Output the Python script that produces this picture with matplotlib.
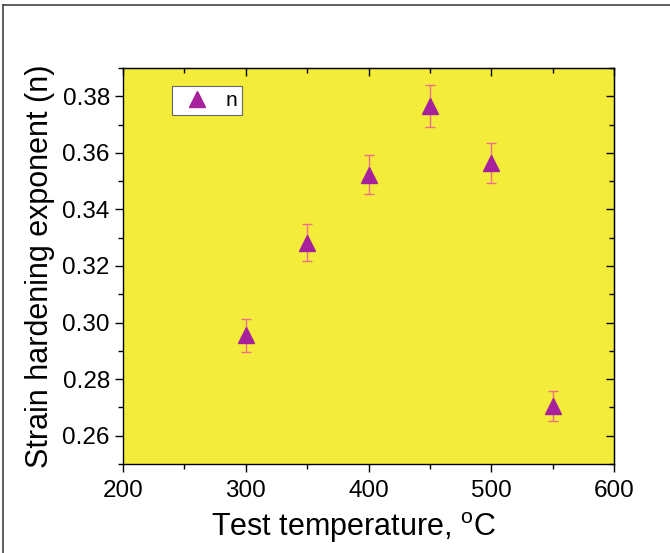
import matplotlib
matplotlib.use("Agg")
import matplotlib.pyplot as plt
from matplotlib.ticker import MultipleLocator
from matplotlib.lines import Line2D

plt.rcParams['font.family'] = ['Liberation Sans', 'DejaVu Sans']
plt.rcParams['mathtext.fontset'] = 'custom'
plt.rcParams['mathtext.rm'] = 'Liberation Sans'

temperature = [300, 350, 400, 450, 500, 550]
n_values = [0.2955, 0.3283, 0.3523, 0.3765, 0.3563, 0.2705]
n_errors = [0.0058, 0.0065, 0.0070, 0.0075, 0.0071, 0.0052]
y_ticks = [0.26, 0.28, 0.30, 0.32, 0.34, 0.36, 0.38]
y_ticklabels = ['0.26', '0.28', '0.30', '0.32', '0.34', '0.36', '0.38']

yellow = '#F3EC3B'
purple = '#A6219B'
errc = '#EE6E8C'

fig = plt.figure(figsize=(6.70, 5.53), dpi=100)
ax = fig.add_axes([123/670, 1 - 464/553, (614-123)/670, (464-68)/553])
ax.set_facecolor(yellow)

ax.errorbar(temperature, n_values, yerr=n_errors, fmt='none', ecolor=errc,
            elinewidth=1.0, capsize=3.5, capthick=1.0, zorder=2)
ax.plot(temperature, n_values, linestyle='none', marker='^', markersize=11,
        color=purple, markeredgecolor=purple, zorder=3)

ax.set_xlim(200, 600)
ax.set_ylim(0.25, 0.39)
ax.xaxis.set_major_locator(MultipleLocator(100))
ax.xaxis.set_minor_locator(MultipleLocator(50))
ax.yaxis.set_minor_locator(MultipleLocator(0.01))
ax.set_yticks(y_ticks)
ax.set_yticklabels(y_ticklabels)
ax.tick_params(which='major', direction='out', length=5.5, width=1.0, labelsize=17.5)
ax.tick_params(which='minor', direction='out', length=3.5, width=1.0)
ax.tick_params(axis='x', which='major', pad=6)
ax.tick_params(axis='y', which='major', pad=4)

for s in ax.spines.values():
    s.set_linewidth(1.0)

secy = ax.secondary_yaxis('right')
secy.set_yticks(y_ticks)
secy.set_yticklabels([])
secy.yaxis.set_minor_locator(MultipleLocator(0.01))
secy.tick_params(which='major', direction='in', length=5.5, width=1.0, labelright=False)
secy.tick_params(which='minor', direction='in', length=3.5, width=1.0)
secx = ax.secondary_xaxis('top')
secx.xaxis.set_major_locator(MultipleLocator(100))
secx.xaxis.set_minor_locator(MultipleLocator(50))
secx.tick_params(which='major', direction='in', length=5.5, width=1.0, labeltop=False)
secx.tick_params(which='minor', direction='in', length=3.5, width=1.0)

ax.set_xlabel(r'Test temperature, $^{\mathrm{o}}$C', fontsize=22)
ax.xaxis.set_label_coords(0.47, -0.117, transform=ax.transAxes)
ax.xaxis.label.set_va('top')
ax.set_ylabel('Strain hardening exponent (n)', fontsize=22, labelpad=5)

handle = Line2D([], [], linestyle='none', marker='^', markersize=11,
                color=purple)
leg = ax.legend([handle], ['n'], loc='upper left', bbox_to_anchor=(0.1, 0.955),
                frameon=True, fancybox=False, fontsize=15, handlelength=1.9,
                borderpad=0.25, handletextpad=0.4, borderaxespad=0,
                framealpha=1, facecolor='white')
leg.get_frame().set_edgecolor('#666666')
leg.get_frame().set_linewidth(0.8)

# figure border (top and left)
fig.add_artist(Line2D([3/670, 1], [1 - 5/553, 1 - 5/553], color='#444444', lw=1.2,
                      transform=fig.transFigure))
fig.add_artist(Line2D([3/670, 3/670], [0, 1 - 5/553], color='#444444', lw=1.2,
                      transform=fig.transFigure))

fig.savefig('out.png', dpi=100)
